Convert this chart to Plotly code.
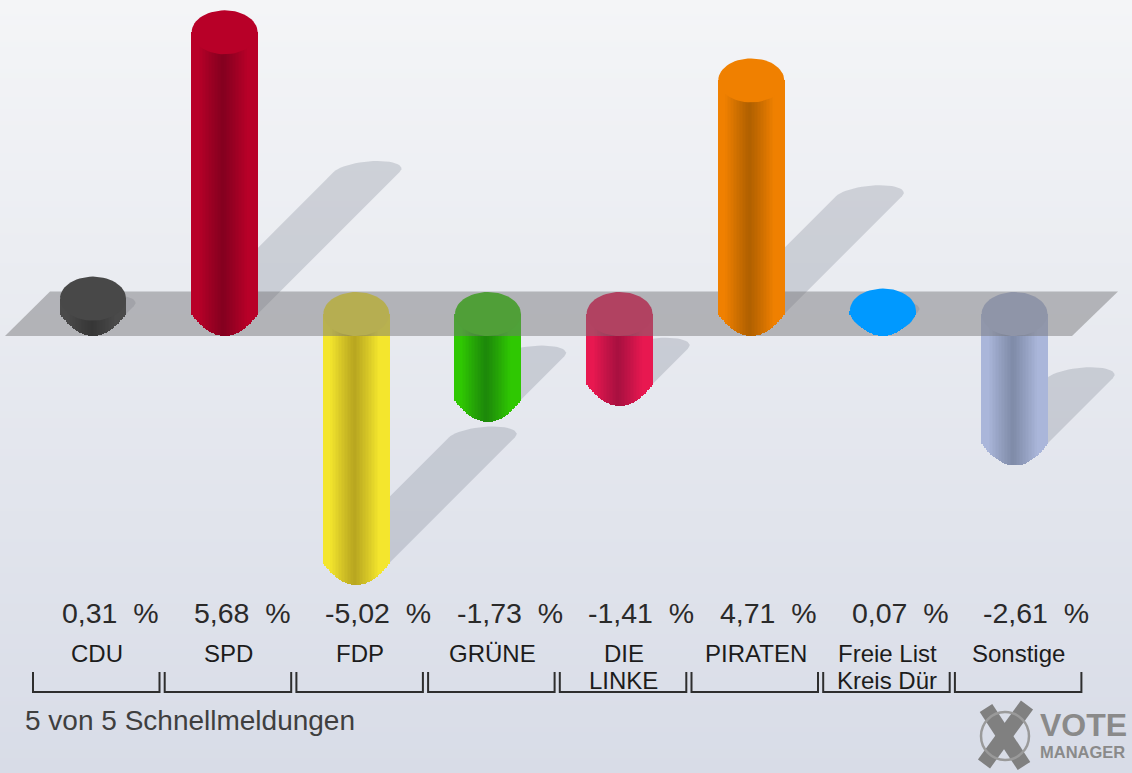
import math
import plotly.graph_objects as go

# ---- data ----
parties = ["CDU", "SPD", "FDP", "GRÜNE", "DIE|LINKE", "PIRATEN", "Freie List|Kreis Dür", "Sonstige"]
values = [0.31, 5.68, -5.02, -1.73, -1.41, 4.71, 0.07, -2.61]
edge_colors = ["#4a4a4a", "#b80028", "#f4e62d", "#2fc802", "#e81850", "#f08000", "#0099ff", "#aab6da"]
dark_colors = ["#363636", "#84001f", "#b8a620", "#1d880a", "#a81040", "#b06000", "#0099ff", "#7f8ba8"]
cap_colors = ["#484848", "#b80028", "#f0e030", "#30c400", "#e6164e", "#f08000", "#0099ff", "#a7b2d4"]
footer = "5 von 5 Schnellmeldungen"

W, H = 1132, 773
PX_X, PX_Y = 131.65, 49.6      # pixels per category / per percentage point
X0, Y0 = 93.0, 314.0           # pixel of category 0 / of the zero line
CAP_A, CAP_B = 33 / PX_X, 22 / PX_Y
N_STRIPS = 44
SHADOW = 25.0                  # shadow pixels per percentage point


def hex_rgb(c):
    return [int(c[i:i + 2], 16) for i in (1, 3, 5)]


def mix(a, b, t):
    ra, rb = hex_rgb(a), hex_rgb(b)
    return "rgb({},{},{})".format(*[round(p + (q - p) * t) for p, q in zip(ra, rb)])


def to_x(px):
    return (px - X0) / PX_X


def to_y(py):
    return (Y0 - py) / PX_Y


def ell(cx, cy, a, b, n=60):
    xs = [cx + a * math.cos(2 * math.pi * k / n) for k in range(n + 1)]
    ys = [cy + b * math.sin(2 * math.pi * k / n) for k in range(n + 1)]
    return xs, ys


xr = [to_x(0), to_x(W)]
yr = [to_y(H), to_y(0)]
fig = go.Figure()

# ---- background ----
bg_top, bg_bot = (244, 245, 247), (216, 220, 231)
rows = 40
bg_y = [to_y(H * k / (rows - 1)) for k in range(rows)]
bg_z = [[k / (rows - 1)] * 2 for k in range(rows)]
fig.add_trace(go.Heatmap(
    x=[to_x(6), to_x(W)], y=bg_y, z=bg_z, zsmooth="best", showscale=False, hoverinfo="skip",
    colorscale=[[0, "rgb(%d,%d,%d)" % bg_top], [1, "rgb(%d,%d,%d)" % bg_bot]],
))

# ---- shadows ----
for i, v in enumerate(values):
    sx = i
    sy = 0 if v >= 0 else v
    L = abs(v) * SHADOW
    ex, ey = sx + L / PX_X, sy + L / PX_Y
    a, b = CAP_A, 11 / PX_Y
    arc = [k * math.pi / 24 for k in range(0, 25)]
    # the end of the band is an ellipse sheared along the shadow's diagonal
    xs = [sx - a, sx + a] + [ex + a * math.cos(t) + (11 / PX_X) * math.sin(t) for t in arc]
    ys = [sy, sy] + [ey + b * math.sin(t) for t in arc]
    fig.add_trace(go.Scatter(x=xs, y=ys, mode="lines", fill="toself", line=dict(width=0),
                             fillcolor="rgba(120,125,140,0.27)", hoverinfo="skip"))


# ---- cylinders ----
def add_strips(idx, axes):
    w = 2 * CAP_A / N_STRIPS
    for s in range(N_STRIPS):
        u = -1 + (2 * s + 1) / N_STRIPS
        bend = CAP_B * (1 - u * u)
        t = min(1, abs(u + 0.04) / 0.75) ** 1.1
        base, height, colors = [], [], []
        for i in idx:
            v = values[i]
            lo = -bend if v >= 0 else v - bend
            hi = v if v >= 0 else 0
            base.append(lo)
            height.append(hi - lo)
            colors.append(mix(dark_colors[i], edge_colors[i], t))
        fig.add_trace(go.Bar(
            x=idx, y=height, base=base, width=w * 1.3, offset=u * CAP_A - w / 2,
            marker=dict(color=colors, line=dict(width=0)),
            xaxis=axes[0], yaxis=axes[1], hoverinfo="skip",
        ))


neg = [i for i, v in enumerate(values) if v < 0]
pos = [i for i, v in enumerate(values) if v >= 0]

add_strips(neg, ("x2", "y2"))
for i in neg:
    xs, ys = ell(i, 0, CAP_A, CAP_B)
    fig.add_trace(go.Scatter(x=xs, y=ys, mode="lines", fill="toself", line=dict(width=0),
                             fillcolor=cap_colors[i], xaxis="x2", yaxis="y2", hoverinfo="skip"))

# floor, over the falling bars, under the rising ones
fig.add_trace(go.Scatter(
    x=[to_x(p) for p in (5, 50, 1118, 1072, 5)],
    y=[to_y(p) for p in (336, 291.5, 291.5, 336, 336)],
    mode="lines", fill="toself", line=dict(width=0), fillcolor="rgba(116,116,118,0.47)",
    xaxis="x2", yaxis="y2", hoverinfo="skip"))

add_strips(pos, ("x3", "y3"))
for i in pos:
    xs, ys = ell(i, values[i], CAP_A, CAP_B)
    fig.add_trace(go.Scatter(x=xs, y=ys, mode="lines", fill="toself", line=dict(width=0),
                             fillcolor=cap_colors[i], xaxis="x3", yaxis="y3", hoverinfo="skip"))


# ---- text ----
def pxx(p):
    return p / W


def pxy(p):
    return 1 - p / H


def label(text, x, y, size, anchor="center", color="#2a2a2a", bold=False):
    fig.add_annotation(
        text=f"<b>{text}</b>" if bold else text, x=pxx(x), y=pxy(y), xref="paper", yref="paper",
        showarrow=False, xanchor=anchor, yanchor="middle", align=anchor,
        font=dict(family="Liberation Sans", size=size, color=color), borderpad=0, borderwidth=0,
    )


shapes = []
for i, (name, v) in enumerate(zip(parties, values)):
    txt = f"{v:.2f}".replace(".", ",") + "\u00a0\u00a0%"
    label(txt, 62 + 131.6 * i, 613, 28.5, "left")
    for j, part in enumerate(name.split("|")):
        label(part, 97 + 131.7 * i, 653 + 27.5 * j, 24, color="#1c1c1c")
    l, r = 33 + 131.7 * i, 159.5 + 131.7 * i
    shapes.append(dict(type="path", xref="paper", yref="paper",
                       path=f"M{pxx(l)},{pxy(672)} L{pxx(l)},{pxy(692)} L{pxx(r)},{pxy(692)} L{pxx(r)},{pxy(672)}",
                       line=dict(color="#2e2e2e", width=2), layer="above"))
label(footer, 25, 720, 28, "left", "#3f3f3f")

# ---- logo ----
logo_grey = "#8a8a8a"
label("VOTE", 1040, 724.5, 32, "left", logo_grey, True)
label("MANAGER", 1040, 752, 16.5, "left", logo_grey, True)
for (a, b, c, d) in [(986, 708, 1024, 766), (1027, 705, 984, 764)]:
    shapes.append(dict(type="line", xref="paper", yref="paper", x0=pxx(a), y0=pxy(b), x1=pxx(c), y1=pxy(d),
                       line=dict(color="#808080", width=15), layer="above"))
shapes.append(dict(type="circle", xref="paper", yref="paper", x0=pxx(981), x1=pxx(1029), y0=pxy(712), y1=pxy(760),
                   line=dict(color="#9a9a9a", width=2.5), layer="above"))

axis = dict(visible=False, fixedrange=True)
fig.update_layout(
    width=W, height=H, margin=dict(l=0, r=0, t=0, b=0, pad=0), showlegend=False,
    paper_bgcolor="#ffffff", plot_bgcolor="#ffffff", barmode="overlay", bargap=0, shapes=shapes,
    xaxis=dict(range=xr, **axis), yaxis=dict(range=yr, **axis),
    xaxis2=dict(range=xr, overlaying="x", **axis), yaxis2=dict(range=yr, overlaying="y", **axis),
    xaxis3=dict(range=xr, overlaying="x", **axis), yaxis3=dict(range=yr, overlaying="y", **axis),
)
fig.write_html("out.html", config={"displayModeBar": False, "responsive": False},
               post_script="document.body.style.margin='0';document.documentElement.style.overflow='hidden';")
